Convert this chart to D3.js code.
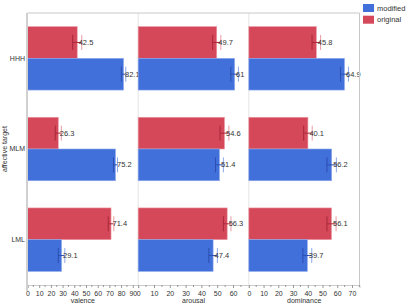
<!DOCTYPE html>
<html>
<head>
<meta charset="utf-8">
<script src="https://cdn.jsdelivr.net/npm/d3@7"></script>
<style>
  body { margin: 0; background: #fff; }
  svg { font-family: "Liberation Sans", Arial, sans-serif; }
</style>
</head>
<body>
<div id="chart"></div>
<script>
var targets = ["HHH", "MLM", "LML"];
var dims = ["valence", "arousal", "dominance"];
var groups = ["original", "modified"];

// values per dimension, in target order
var originalVals = {
    valence: [42.5, 26.3, 71.4],
    arousal: [49.7, 54.6, 56.3],
    dominance: [45.8, 40.1, 56.1]
};
var modifiedVals = {
    valence: [82.1, 75.2, 29.1],
    arousal: [61, 51.4, 47.4],
    dominance: [64.9, 56.2, 39.7]
};
// error half widths (estimated)
var originalErr = {
    valence: [3.9, 2.6, 2.4],
    arousal: [2.6, 2.8, 2.4],
    dominance: [2.9, 2.9, 3.1]
};
var modifiedErr = {
    valence: [1.9, 1.7, 2.8],
    arousal: [2.4, 2.5, 2.7],
    dominance: [2.7, 3.2, 3.0]
};
var domainMax = { valence: 94.6, arousal: 70, dominance: 75.1 };
var tickVals = {
    valence: [0, 10, 20, 30, 40, 50, 60, 70, 80, 90],
    arousal: [0, 10, 20, 30, 40, 50, 60],
    dominance: [0, 10, 20, 30, 40, 50, 60, 70]
};

var colors = { modified: "#4170db", original: "#d4485a" };
var darkColors = { modified: "#2c4fb0", original: "#a8283a" };
var lightColors = { modified: "#8fa8ec", original: "#ec9aa4" };

var totalWidth = 415,
    totalHeight = 308,
    plotLeft = 27.5,
    plotRight = 359.5,
    plotTop = 13,
    plotBottom = 285;

var svg = d3.select("#chart").append("svg")
    .attr("width", totalWidth)
    .attr("height", totalHeight);

var panelScale = d3.scaleBand()
    .domain(dims)
    .range([plotLeft, plotRight]);

var yScale = d3.scaleBand()
    .domain(targets)
    .range([plotTop, plotBottom])
    .paddingInner(0.3)
    .paddingOuter(0.15);

var subScale = d3.scaleBand()
    .domain(groups)
    .range([0, yScale.bandwidth()]);

// panel separators
svg.selectAll("line.sep")
    .data(dims.slice(1))
    .enter().append("line")
    .attr("class", "sep")
    .attr("x1", function(d) { return panelScale(d); })
    .attr("x2", function(d) { return panelScale(d); })
    .attr("y1", plotTop)
    .attr("y2", plotBottom)
    .attr("stroke", "#e4e4e4")
    .attr("stroke-width", 1);

dims.forEach(function(dim) {
    var x0 = panelScale(dim);
    var xScale = d3.scaleLinear()
        .domain([0, domainMax[dim]])
        .range([x0, x0 + panelScale.bandwidth()]);

    var rows = [];
    targets.forEach(function(t, i) {
        rows.push({ target: t, group: "original", value: originalVals[dim][i], err: originalErr[dim][i] });
        rows.push({ target: t, group: "modified", value: modifiedVals[dim][i], err: modifiedErr[dim][i] });
    });

    var g = svg.append("g");

    g.selectAll("rect")
        .data(rows)
        .enter().append("rect")
        .attr("x", xScale(0))
        .attr("y", function(d) { return yScale(d.target) + subScale(d.group); })
        .attr("width", function(d) { return xScale(d.value) - xScale(0); })
        .attr("height", subScale.bandwidth())
        .attr("fill", function(d) { return colors[d.group]; })
        .attr("stroke", function(d) { return lightColors[d.group]; })
        .attr("stroke-width", 0.6);

    var eb = g.selectAll("g.err")
        .data(rows)
        .enter().append("g")
        .attr("class", "err")
        .attr("transform", function(d) {
            return "translate(0," + (yScale(d.target) + subScale(d.group) + subScale.bandwidth() / 2) + ")";
        });

    eb.append("line")
        .attr("x1", function(d) { return xScale(d.value - d.err); })
        .attr("x2", function(d) { return xScale(d.value + d.err); })
        .attr("stroke", function(d) { return darkColors[d.group]; })
        .attr("stroke-width", 1);

    eb.append("line")
        .attr("x1", function(d) { return xScale(d.value - d.err); })
        .attr("x2", function(d) { return xScale(d.value - d.err); })
        .attr("y1", -7.5).attr("y2", 7.5)
        .attr("stroke", function(d) { return darkColors[d.group]; })
        .attr("stroke-width", 1);

    eb.append("line")
        .attr("x1", function(d) { return xScale(d.value + d.err); })
        .attr("x2", function(d) { return xScale(d.value + d.err); })
        .attr("y1", -7.5).attr("y2", 7.5)
        .attr("stroke", function(d) { return lightColors[d.group]; })
        .attr("stroke-width", 1);

    eb.append("text")
        .attr("x", function(d) { return xScale(d.value) + 1.5; })
        .attr("dy", "0.35em")
        .attr("font-size", 7.5)
        .attr("fill", "#333")
        .text(function(d) { return d.value; });

    // axis
    var axis = d3.axisBottom(xScale)
        .tickValues(tickVals[dim])
        .tickSize(3)
        .tickPadding(3);
    var ax = svg.append("g")
        .attr("transform", "translate(0," + plotBottom + ")")
        .call(axis);
    ax.select(".domain").attr("stroke", "#ccc");
    ax.selectAll(".tick line").attr("stroke", "#999");
    ax.selectAll(".tick text").attr("font-size", 7).attr("fill", "#333");

    var minor = tickVals[dim].map(function(v) { return v + 5; })
        .filter(function(v) { return v < domainMax[dim]; });
    ax.selectAll("line.minor")
        .data(minor)
        .enter().append("line")
        .attr("class", "minor")
        .attr("x1", function(d) { return xScale(d); })
        .attr("x2", function(d) { return xScale(d); })
        .attr("y1", 0).attr("y2", 2)
        .attr("stroke", "#999");

    svg.append("text")
        .attr("x", x0 + panelScale.bandwidth() / 2)
        .attr("y", 303)
        .attr("text-anchor", "middle")
        .attr("font-size", 7)
        .attr("fill", "#333")
        .text(dim);
});

// plot frame
svg.append("line")
    .attr("x1", plotLeft).attr("x2", plotRight)
    .attr("y1", plotTop).attr("y2", plotTop)
    .attr("stroke", "#c8c8c8");
svg.append("line")
    .attr("x1", plotRight).attr("x2", plotRight)
    .attr("y1", plotTop).attr("y2", plotBottom)
    .attr("stroke", "#c8c8c8");
svg.append("line")
    .attr("x1", plotLeft - 0.5).attr("x2", plotLeft - 0.5)
    .attr("y1", plotTop).attr("y2", plotBottom + 6)
    .attr("stroke", "#d0d0d0")
    .attr("stroke-width", 2);

// y labels
svg.selectAll("text.ylab")
    .data(targets)
    .enter().append("text")
    .attr("class", "ylab")
    .attr("x", 25)
    .attr("y", function(d) { return yScale(d) + yScale.bandwidth() / 2; })
    .attr("dy", "0.35em")
    .attr("text-anchor", "end")
    .attr("font-size", 7)
    .attr("fill", "#333")
    .text(function(d) { return d; });

svg.append("text")
    .attr("transform", "translate(7," + ((plotTop + plotBottom) / 2) + ") rotate(-90)")
    .attr("text-anchor", "middle")
    .attr("font-size", 7)
    .attr("fill", "#333")
    .text("affective target");

// legend
var legendGroups = ["modified", "original"];
var leg = svg.selectAll("g.leg")
    .data(legendGroups)
    .enter().append("g")
    .attr("class", "leg")
    .attr("transform", function(d, i) { return "translate(363," + (4 + i * 11.7) + ")"; });
leg.append("rect")
    .attr("width", 11)
    .attr("height", 8)
    .attr("fill", function(d) { return colors[d]; });
leg.append("text")
    .attr("x", 14)
    .attr("y", 4)
    .attr("dy", "0.35em")
    .attr("font-size", 7.5)
    .attr("fill", "#333")
    .text(function(d) { return d; });
</script>
</body>
</html>
